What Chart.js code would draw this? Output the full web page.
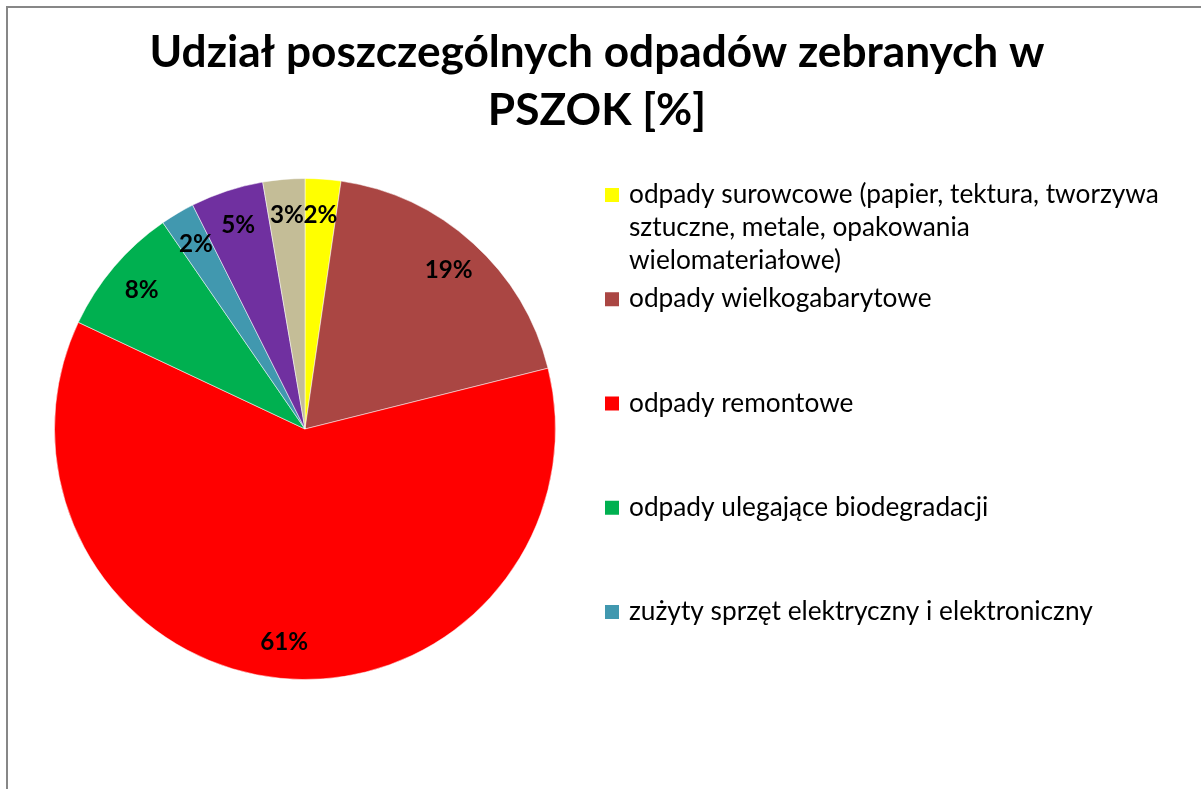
<!DOCTYPE html>
<html><head><meta charset="utf-8">
<script src="https://cdn.jsdelivr.net/npm/chart.js@4.4.0/dist/chart.umd.min.js"></script>
<style>
html,body{margin:0;padding:0;background:#fff;overflow:hidden}
#wrap{position:relative;width:1201px;height:789px;overflow:hidden;background:#fff}
#frame{position:absolute;left:6px;top:6px;width:1400px;height:1000px;border-top:2px solid #878787;border-left:2px solid #878787;box-sizing:border-box}
#c{position:absolute;left:0;top:0}
</style></head><body>
<div id="wrap"><div id="frame"></div><canvas id="c" width="1201" height="789"></canvas></div>
<script>
// ---- data ----
const titleLines = ['Udział poszczególnych odpadów zebranych w', 'PSZOK [%]'];
const categories = [
  'odpady surowcowe (papier, tektura, tworzywa sztuczne, metale, opakowania wielomateriałowe)',
  'odpady wielkogabarytowe',
  'odpady remontowe',
  'odpady ulegające biodegradacji',
  'zużyty sprzęt elektryczny i elektroniczny',
  'chemikalia i odpady niebezpieczne',
  'inne'
];
const shares = [2.3, 18.8, 60.9, 8.4, 2.2, 4.7, 2.7];
const colors = ['#FFFF00', '#AA4643', '#FF0000', '#00B050', '#4198AF', '#7030A0', '#C4BD97'];

// ---- font fitting helpers ----
const FAMILY = 'Lato, "Open Sans", sans-serif';
function fitSize(weight, text, target) {
  const c = document.createElement('canvas').getContext('2d');
  c.font = weight + ' 100px ' + FAMILY;
  return 100 * target / c.measureText(text).width;
}
const titleSize = fitSize('bold', titleLines[0], 895);
const legendSize = fitSize('normal', 'odpady surowcowe (papier, tektura, tworzywa', 530);
const labelSize = fitSize('bold', '19%', 48);

function wrap(ctx, text, maxW) {
  const words = text.split(' ');
  const lines = [];
  let cur = '';
  for (const w of words) {
    const t = cur ? cur + ' ' + w : w;
    if (ctx.measureText(t).width > maxW && cur) { lines.push(cur); cur = w; }
    else cur = t;
  }
  if (cur) lines.push(cur);
  return lines;
}

const decor = {
  id: 'decor',
  afterDatasetsDraw(chart) {
    const ctx = chart.ctx;
    const meta = chart.getDatasetMeta(0);
    const data = chart.data.datasets[0].data;
    const total = data.reduce((a, b) => a + b, 0);
    // data labels
    ctx.save();
    ctx.fillStyle = '#000';
    ctx.font = 'bold ' + labelSize + 'px ' + FAMILY;
    ctx.textAlign = 'center';
    ctx.textBaseline = 'middle';
    meta.data.forEach((arc, i) => {
      const p = arc.getProps(['x', 'y', 'startAngle', 'endAngle', 'outerRadius'], true);
      const mid = (p.startAngle + p.endAngle) / 2;
      const r = p.outerRadius * 0.855;
      const pct = Math.round(data[i] / total * 100) + '%';
      ctx.fillText(pct, p.x + Math.cos(mid) * r, p.y + Math.sin(mid) * r);
    });
    ctx.restore();

    // title
    ctx.save();
    ctx.fillStyle = '#000';
    ctx.font = 'bold ' + titleSize + 'px ' + FAMILY;
    ctx.textAlign = 'center';
    ctx.textBaseline = 'alphabetic';
    ctx.fillText(titleLines[0], 597, 67);
    ctx.fillText(titleLines[1], 597, 125);
    ctx.restore();

    // legend
    ctx.save();
    ctx.font = legendSize + 'px ' + FAMILY;
    ctx.textAlign = 'left';
    ctx.textBaseline = 'alphabetic';
    const boxX = 605, box = 14, textX = 629, lineH = 33, step = 104.25, maxW = 545;
    chart.data.labels.forEach((lab, i) => {
      const cy = 195 + i * step;
      if (cy > 660) return;
      ctx.fillStyle = colors[i];
      ctx.fillRect(boxX, cy - box / 2, box, box);
      ctx.fillStyle = '#000';
      wrap(ctx, lab, maxW).forEach((ln, k) => {
        ctx.fillText(ln, textX, cy + 8 + k * lineH);
      });
    });
    ctx.restore();
  }
};

new Chart(document.getElementById('c'), {
  type: 'pie',
  data: {
    labels: categories,
    datasets: [{
      data: shares,
      backgroundColor: colors,
      borderColor: 'rgba(255,255,255,0.5)',
      borderWidth: 1
    }]
  },
  options: {
    responsive: false,
    animation: false,
    devicePixelRatio: 1,
    layout: { padding: { left: 54, right: 645, top: 178, bottom: 109 } },
    plugins: {
      legend: { display: false },
      title: { display: false },
      tooltip: { enabled: false }
    }
  },
  plugins: [decor]
});
</script>
</body></html>
